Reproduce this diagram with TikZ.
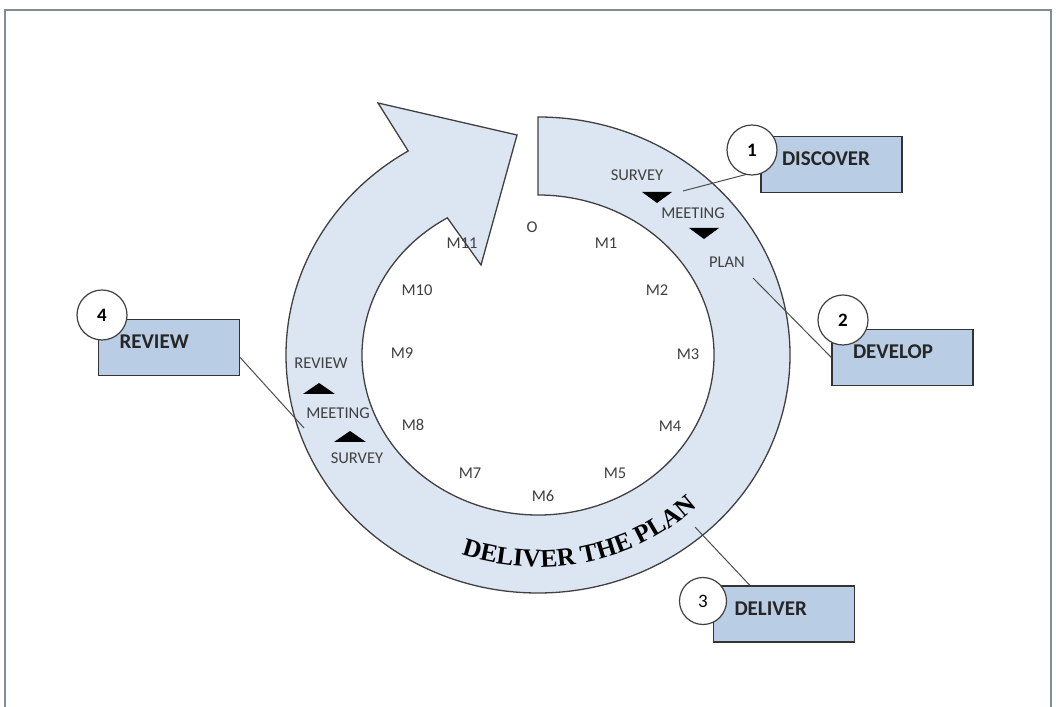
\documentclass[tikz,border=0pt]{standalone}
\usepackage{fontspec}
\setmainfont{Carlito}
\newfontfamily\artfont{Liberation Serif}
\usetikzlibrary{calc,decorations.text}

\begin{document}
\begin{tikzpicture}[x=1pt,y=1pt,
  stepbox/.style={draw=black!80,line width=1.3pt,fill=boxblue,
    minimum width=141pt,minimum height=56pt,text width=99pt,align=left,
    inner xsep=21pt,inner ysep=0pt,text height=13pt,text depth=10pt,
    font=\fontsize{21}{21}\selectfont\bfseries,text=black!85},
  numring/.style={circle,draw=black!75,line width=1.2pt,fill=white,
    minimum size=50pt,inner sep=0pt,font=\fontsize{19}{19}\selectfont\bfseries},
  lbl/.style={font=\fontsize{16.5}{16.5}\selectfont,text=black!75},
  lead/.style={line width=1pt,draw=black!70}]

\definecolor{ringblue}{RGB}{220,230,242}
\definecolor{boxblue}{RGB}{185,205,229}
\definecolor{framegray}{RGB}{130,140,148}

\useasboundingbox (0,0) rectangle (1056,706);
\clip (0,0) rectangle (1056,706);
\draw[framegray,line width=2pt] (5,-20) rectangle (1051,696);

% ring with arrow head
\coordinate (ctr) at (538,351);
\filldraw[fill=ringblue,draw=black!75,line width=1.3pt]
  ($(ctr)+(90:252 and 238)$) arc[start angle=90,end angle=-239,x radius=252pt,y radius=238pt]
  -- (378,603) -- (517,571) -- (481,441)
  -- ($(ctr)+(121:176 and 160)$) arc[start angle=121,end angle=450,x radius=176pt,y radius=160pt]
  -- cycle;

\path[decorate,decoration={text along path,text align=center,
  text={|\artfont\fontsize{25.5}{25.5}\selectfont\bfseries|DELIVER THE PLAN}}]
  ($(ctr)+(240:228 and 212)$) arc[start angle=240,end angle=325,x radius=228pt,y radius=212pt];

% months
\foreach \txt/\x/\y in {O/532/479,M1/606/463,M2/657/416,M3/688/352,M4/670/280,M5/615/233,
  M6/543/210,M7/470/233,M8/413/281,M9/402/353,M10/417/416,M11/462/463}{
	\node[lbl] at (\x,\y) {\txt};
}

% steps inside the ring
\def\dntri#1#2{
\fill[black] (#1-15,#2) -- (#1+15,#2) -- (#1,#2-11) -- cycle;
}
\def\uptri#1#2{
\fill[black] (#1-16,#2) -- (#1+16,#2) -- (#1,#2+11) -- cycle;
}
\node[lbl] at (637,531) {SURVEY};
\dntri{657}{514}
\node[lbl] at (693,493) {MEETING};
\dntri{704}{478}
\node[lbl] at (727,444) {PLAN};

\node[lbl] at (321,343) {REVIEW};
\uptri{319}{312}
\node[lbl] at (338,293) {MEETING};
\uptri{350}{264}
\node[lbl] at (357,248) {SURVEY};

% boxes
\node[stepbox] (disc) at (831.5,541.5) {DISCOVER};
\node[stepbox] (devl) at (902.5,348.5) {DEVELOP};
\node[stepbox] (dlvr) at (784,92) {DELIVER};
\node[stepbox] (revw) at (169,358.5) {REVIEW};

\coordinate (c1) at (683,515);
\coordinate (c2) at (753,428);
\coordinate (c3) at (695,179);
\coordinate (c4) at (304,278);
\draw[lead] (disc.185) -- (c1);
\draw[lead] (c2) -- (devl.west);
\draw[lead] (dlvr.140) -- (c3);
\draw[lead] (revw.-8) -- (c4);

\node[numring] (n1) at (752,556) {1};
\node[numring] (n2) at (843,386) {2};
\node[numring,minimum size=47pt] (n3) at (703,105) {\mdseries 3};
\node[numring] (n4) at (102,391) {4};

\end{tikzpicture}
\end{document}
